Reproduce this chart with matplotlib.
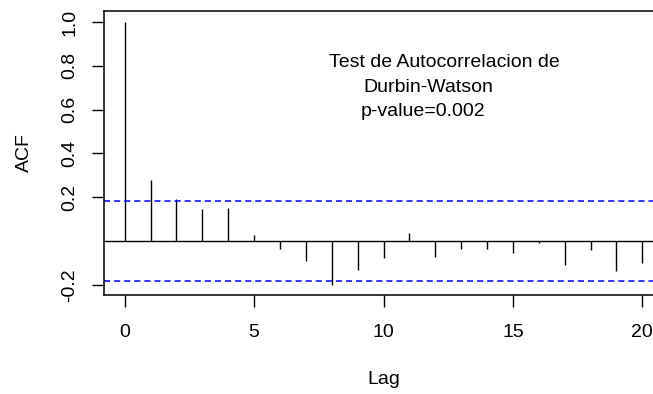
import numpy as np
import matplotlib.pyplot as plt

plt.rcParams['font.family'] = ['Liberation Sans', 'DejaVu Sans']

# ACF values
lags = list(range(21))
acf = [1.0, 0.279, 0.193, 0.145, 0.149, 0.026, -0.038, -0.091, -0.201, -0.132,
       -0.076, 0.037, -0.072, -0.038, -0.038, -0.055, -0.008, -0.111, -0.043,
       -0.139, -0.099]
ci = 0.181
y_ticks = [-0.2, 0.2, 0.4, 0.6, 0.8, 1.0]
x_ticks = [0, 5, 10, 15, 20]
note_lines = ["Test de Autocorrelacion de", "Durbin-Watson", "p-value=0.002"]

fs = 14

fig = plt.figure(figsize=(6.53, 3.94), dpi=100)
ax = fig.add_axes([0.1593, 0.2513, 0.856, 0.7208])

ax.vlines(lags, 0, acf, color='black', lw=1.0)
ax.axhline(0, color='black', lw=1.0)
ax.axhline(ci, color='#0000FF', lw=1.1, dashes=(4, 2.6))
ax.axhline(-ci, color='#0000FF', lw=1.1, dashes=(4, 2.6))

ax.set_xlim(-0.8, 20.8)
ax.set_ylim(-0.247, 1.05)
ax.set_xticks(x_ticks)
ax.set_yticks(y_ticks)
ax.set_yticklabels([f"{v:.1f}" for v in y_ticks], rotation=90, va='center')
ax.tick_params(axis='both', length=8.6, width=1.0, labelsize=fs, color='black')
ax.tick_params(axis='y', pad=10)
ax.tick_params(axis='x', pad=12)
for s in ax.spines.values():
    s.set_linewidth(1.1)

ax.set_xlabel("Lag", fontsize=fs, labelpad=22)
ax.set_ylabel("ACF", fontsize=fs, labelpad=20)

# note text
ax.text(7.89, 0.813, note_lines[0], fontsize=fs, ha='left', va='center')
ax.text(9.21, 0.699, note_lines[1], fontsize=fs, ha='left', va='center')
ax.text(9.13, 0.589, note_lines[2], fontsize=fs, ha='left', va='center')

fig.savefig("out.png", dpi=100)
